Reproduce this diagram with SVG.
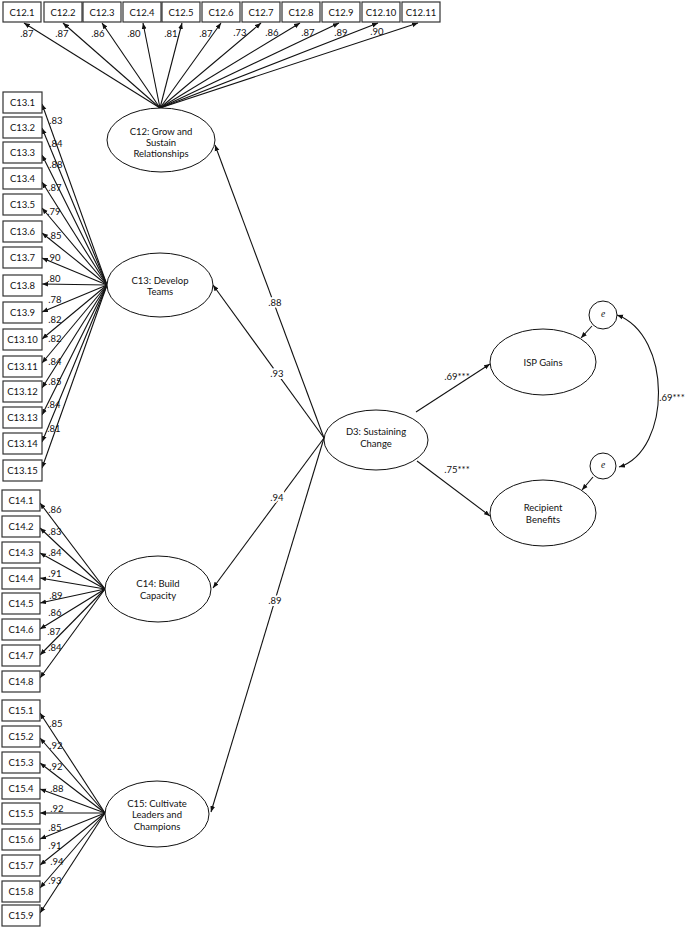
<svg xmlns="http://www.w3.org/2000/svg" width="685" height="928" viewBox="0 0 685 928">
<defs>
<marker id="ah" viewBox="0 0 10 10" refX="10" refY="5" markerWidth="6" markerHeight="6" markerUnits="userSpaceOnUse" orient="auto-start-reverse"><path d="M0,1 L10,5 L0,9 Z" fill="#111"/></marker>
</defs>
<style>
text{font-family:Lato,"Liberation Sans",sans-serif;font-size:9.5px;fill:#111;text-anchor:middle;dominant-baseline:central}
.b rect{fill:#fff;stroke:#333;stroke-width:1.2}
ellipse,circle{fill:#fff;stroke:#111;stroke-width:1}
.c line,.c path{stroke:#111;stroke-width:1.1;fill:none;marker-end:url(#ah)}
.lbl{paint-order:stroke;stroke:#fff;stroke-width:4px}
.e{font-style:italic;font-family:"Liberation Serif",serif}
</style>
<g class="c" id="connectors">
<line x1="160" y1="108" x2="24" y2="23"/>
<line x1="160" y1="108" x2="63" y2="23"/>
<line x1="160" y1="108" x2="102" y2="23"/>
<line x1="160" y1="108" x2="143" y2="23"/>
<line x1="160" y1="108" x2="182" y2="23"/>
<line x1="160" y1="108" x2="221" y2="23"/>
<line x1="160" y1="108" x2="261" y2="23"/>
<line x1="160" y1="108" x2="300" y2="23"/>
<line x1="160" y1="108" x2="339" y2="23"/>
<line x1="160" y1="108" x2="378" y2="23"/>
<line x1="160" y1="108" x2="418" y2="23"/>
<line x1="107" y1="285" x2="42" y2="104"/>
<line x1="107" y1="285" x2="42" y2="128"/>
<line x1="107" y1="285" x2="42" y2="155"/>
<line x1="107" y1="285" x2="42" y2="182"/>
<line x1="107" y1="285" x2="42" y2="208"/>
<line x1="107" y1="285" x2="42" y2="233"/>
<line x1="107" y1="285" x2="42" y2="258"/>
<line x1="107" y1="285" x2="42" y2="284"/>
<line x1="107" y1="285" x2="42" y2="312"/>
<line x1="107" y1="285" x2="42" y2="339"/>
<line x1="107" y1="285" x2="42" y2="363"/>
<line x1="107" y1="285" x2="42" y2="388"/>
<line x1="107" y1="285" x2="42" y2="415"/>
<line x1="107" y1="285" x2="42" y2="442"/>
<line x1="107" y1="285" x2="42" y2="468"/>
<line x1="105" y1="589" x2="40" y2="503"/>
<line x1="105" y1="589" x2="40" y2="528"/>
<line x1="105" y1="589" x2="40" y2="553"/>
<line x1="105" y1="589" x2="40" y2="578"/>
<line x1="105" y1="589" x2="40" y2="603"/>
<line x1="105" y1="589" x2="40" y2="629"/>
<line x1="105" y1="589" x2="40" y2="655"/>
<line x1="105" y1="589" x2="40" y2="678"/>
<line x1="105" y1="813" x2="40" y2="713"/>
<line x1="105" y1="813" x2="40" y2="738"/>
<line x1="105" y1="813" x2="40" y2="763"/>
<line x1="105" y1="813" x2="40" y2="789"/>
<line x1="105" y1="813" x2="40" y2="813"/>
<line x1="105" y1="813" x2="40" y2="839"/>
<line x1="105" y1="813" x2="40" y2="865"/>
<line x1="105" y1="813" x2="40" y2="888"/>
<line x1="105" y1="813" x2="40" y2="913"/>
<line x1="324" y1="438" x2="215" y2="145"/>
<line x1="324" y1="438" x2="213" y2="285"/>
<line x1="324" y1="438" x2="213" y2="588"/>
<line x1="324" y1="438" x2="211" y2="812"/>
<line x1="416" y1="412" x2="490" y2="364"/>
<line x1="417" y1="461" x2="490" y2="516"/>
<line x1="592" y1="326" x2="581" y2="338"/>
<line x1="593" y1="477" x2="582" y2="490"/>
<path d="M619,467 C672,450 672,335 617,315" style="marker-start:url(#ah)"/>
</g>
<g class="b" id="c12-items">
<g id="C12.1"><rect x="3" y="2" width="38" height="20"/><text x="22" y="12">C12.1</text></g>
<g id="C12.2"><rect x="44" y="2" width="38" height="20"/><text x="63" y="12">C12.2</text></g>
<g id="C12.3"><rect x="83" y="2" width="38" height="20"/><text x="102" y="12">C12.3</text></g>
<g id="C12.4"><rect x="123" y="2" width="38" height="20"/><text x="142" y="12">C12.4</text></g>
<g id="C12.5"><rect x="162" y="2" width="38" height="20"/><text x="181" y="12">C12.5</text></g>
<g id="C12.6"><rect x="202" y="2" width="38" height="20"/><text x="221" y="12">C12.6</text></g>
<g id="C12.7"><rect x="242" y="2" width="38" height="20"/><text x="261" y="12">C12.7</text></g>
<g id="C12.8"><rect x="282" y="2" width="38" height="20"/><text x="301" y="12">C12.8</text></g>
<g id="C12.9"><rect x="322" y="2" width="38" height="20"/><text x="341" y="12">C12.9</text></g>
<g id="C12.10"><rect x="362" y="2" width="38" height="20"/><text x="381" y="12">C12.10</text></g>
<g id="C12.11"><rect x="402" y="2" width="38" height="20"/><text x="421" y="12">C12.11</text></g>
</g>
<g class="b" id="c13-items">
<g id="C13.1"><rect x="3" y="92" width="39" height="21"/><text x="22.5" y="102.5">C13.1</text></g>
<g id="C13.2"><rect x="3" y="117" width="39" height="21"/><text x="22.5" y="127.5">C13.2</text></g>
<g id="C13.3"><rect x="3" y="142" width="39" height="21"/><text x="22.5" y="152.5">C13.3</text></g>
<g id="C13.4"><rect x="3" y="168" width="39" height="21"/><text x="22.5" y="178.5">C13.4</text></g>
<g id="C13.5"><rect x="3" y="194" width="39" height="21"/><text x="22.5" y="204.5">C13.5</text></g>
<g id="C13.6"><rect x="3" y="221" width="39" height="21"/><text x="22.5" y="231.5">C13.6</text></g>
<g id="C13.7"><rect x="3" y="247" width="39" height="21"/><text x="22.5" y="257.5">C13.7</text></g>
<g id="C13.8"><rect x="3" y="275" width="39" height="21"/><text x="22.5" y="285.5">C13.8</text></g>
<g id="C13.9"><rect x="3" y="302" width="39" height="21"/><text x="22.5" y="312.5">C13.9</text></g>
<g id="C13.10"><rect x="3" y="329" width="39" height="21"/><text x="22.5" y="339.5">C13.10</text></g>
<g id="C13.11"><rect x="3" y="356" width="39" height="21"/><text x="22.5" y="366.5">C13.11</text></g>
<g id="C13.12"><rect x="3" y="381" width="39" height="21"/><text x="22.5" y="391.5">C13.12</text></g>
<g id="C13.13"><rect x="3" y="407" width="39" height="21"/><text x="22.5" y="417.5">C13.13</text></g>
<g id="C13.14"><rect x="3" y="433" width="39" height="21"/><text x="22.5" y="443.5">C13.14</text></g>
<g id="C13.15"><rect x="3" y="460" width="39" height="21"/><text x="22.5" y="470.5">C13.15</text></g>
</g>
<g class="b" id="c14-items">
<g id="C14.1"><rect x="2" y="490" width="38" height="21"/><text x="21" y="500.5">C14.1</text></g>
<g id="C14.2"><rect x="2" y="516" width="38" height="21"/><text x="21" y="526.5">C14.2</text></g>
<g id="C14.3"><rect x="2" y="542" width="38" height="21"/><text x="21" y="552.5">C14.3</text></g>
<g id="C14.4"><rect x="2" y="568" width="38" height="21"/><text x="21" y="578.5">C14.4</text></g>
<g id="C14.5"><rect x="2" y="593" width="38" height="21"/><text x="21" y="603.5">C14.5</text></g>
<g id="C14.6"><rect x="2" y="619" width="38" height="21"/><text x="21" y="629.5">C14.6</text></g>
<g id="C14.7"><rect x="2" y="645" width="38" height="21"/><text x="21" y="655.5">C14.7</text></g>
<g id="C14.8"><rect x="2" y="671" width="38" height="21"/><text x="21" y="681.5">C14.8</text></g>
</g>
<g class="b" id="c15-items">
<g id="C15.1"><rect x="2" y="700" width="38" height="21"/><text x="21" y="710.5">C15.1</text></g>
<g id="C15.2"><rect x="2" y="726" width="38" height="21"/><text x="21" y="736.5">C15.2</text></g>
<g id="C15.3"><rect x="2" y="752" width="38" height="21"/><text x="21" y="762.5">C15.3</text></g>
<g id="C15.4"><rect x="2" y="778" width="38" height="21"/><text x="21" y="788.5">C15.4</text></g>
<g id="C15.5"><rect x="2" y="803" width="38" height="21"/><text x="21" y="813.5">C15.5</text></g>
<g id="C15.6"><rect x="2" y="829" width="38" height="21"/><text x="21" y="839.5">C15.6</text></g>
<g id="C15.7"><rect x="2" y="855" width="38" height="21"/><text x="21" y="865.5">C15.7</text></g>
<g id="C15.8"><rect x="2" y="881" width="38" height="21"/><text x="21" y="891.5">C15.8</text></g>
<g id="C15.9"><rect x="2" y="905" width="38" height="21"/><text x="21" y="915.5">C15.9</text></g>
</g>
<g id="C12"><ellipse cx="161" cy="140" rx="54" ry="32"/><text x="161" y="131">C12: Grow and</text><text x="161" y="142">Sustain</text><text x="161" y="153">Relationships</text></g>
<g id="C13"><ellipse cx="160" cy="285" rx="53" ry="32"/><text x="160" y="280">C13: Develop</text><text x="160" y="291">Teams</text></g>
<g id="C14"><ellipse cx="158" cy="589" rx="53" ry="33"/><text x="158" y="583">C14: Build</text><text x="158" y="595">Capacity</text></g>
<g id="C15"><ellipse cx="157" cy="814" rx="52" ry="33"/><text x="157" y="803">C15: Cultivate</text><text x="157" y="814">Leaders and</text><text x="157" y="826">Champions</text></g>
<g id="D3"><ellipse cx="376" cy="440" rx="52" ry="30"/><text x="376" y="431">D3: Sustaining</text><text x="376" y="443">Change</text></g>
<g id="ISP"><ellipse cx="543" cy="362" rx="53" ry="33"/><text x="543" y="362">ISP Gains</text></g>
<g id="RB"><ellipse cx="543" cy="513" rx="53" ry="33"/><text x="543" y="507">Recipient</text><text x="543" y="519">Benefits</text></g>
<g id="e1"><circle cx="603" cy="315" r="14"/><text class="e" x="603" y="314">e</text></g>
<g id="e2"><circle cx="603" cy="466" r="13"/><text class="e" x="603" y="465">e</text></g>
<g id="labels">
<text x="27" y="33">.87</text><text x="62" y="33">.87</text><text x="98" y="33">.86</text><text x="134" y="33">.80</text><text x="171" y="33">.81</text><text x="206" y="33">.87</text><text x="240" y="32">.73</text><text x="272" y="32">.86</text><text x="308" y="32">.87</text><text x="341" y="32">.89</text><text x="377" y="31">.90</text>
<text x="56" y="120">.83</text><text x="56" y="143">.84</text><text x="56" y="164">.88</text><text x="55" y="187">.87</text><text x="54" y="211">.79</text><text x="55" y="235">.85</text><text x="54" y="257">.90</text><text x="54" y="278">.80</text><text x="55" y="299">.78</text><text x="55" y="319">.82</text><text x="55" y="338">.82</text><text x="55" y="361">.84</text><text x="55" y="381">.85</text><text x="54" y="404">.84</text><text x="54" y="428">.81</text>
<text x="55" y="509">.86</text><text x="55" y="531">.83</text><text x="55" y="552">.84</text><text x="55" y="573">.91</text><text x="56" y="595">.89</text><text x="55" y="612">.86</text><text x="54" y="631">.87</text><text x="55" y="647">.84</text>
<text x="56" y="723">.85</text><text x="56" y="745">.92</text><text x="56" y="766">.92</text><text x="57" y="788">.88</text><text x="57" y="808">.92</text><text x="55" y="827">.85</text><text x="55" y="845">.91</text><text x="57" y="861">.94</text><text x="55" y="880">.93</text>
<text class="lbl" x="275" y="302">.88</text><text class="lbl" x="277" y="373">.93</text><text class="lbl" x="277" y="497">.94</text><text class="lbl" x="275" y="600">.89</text>
<text x="457" y="376">.69***</text><text x="457" y="469">.75***</text><text x="672" y="397">.69***</text>
</g>
</svg>
